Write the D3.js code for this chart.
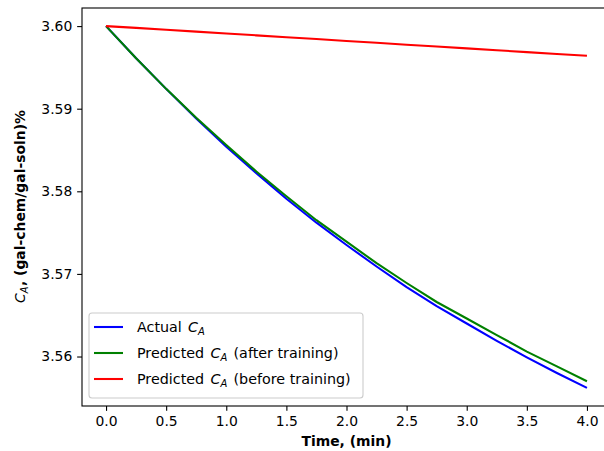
<!DOCTYPE html>
<html>
<head>
<meta charset="utf-8">
<script src="https://cdn.jsdelivr.net/npm/d3@7"></script>
<style>
  body { margin: 0; background: #fff; }
  svg { display: block; font-family: "DejaVu Sans", sans-serif; }
</style>
</head>
<body>
<div id="area"></div>
<script>
// time samples (min)
var times = [0, 0.25, 0.5, 0.75, 1.0, 1.25, 1.5, 1.75, 2.0, 2.25, 2.5, 2.75, 3.0, 3.25, 3.5, 3.75, 4.0];

var actual = [3.6000, 3.5961, 3.5924, 3.5888, 3.5854, 3.5822, 3.5791, 3.5762, 3.5735,
              3.5709, 3.5684, 3.5661, 3.5640, 3.5619, 3.5599, 3.5580, 3.5562];
var afterTraining = [3.6000, 3.5961, 3.5924, 3.5889, 3.5856, 3.5824, 3.5794, 3.5765, 3.5739,
                     3.5713, 3.5689, 3.5666, 3.5646, 3.5626, 3.5606, 3.5588, 3.5570];
var beforeTraining = [3.6000, 3.59978, 3.59955, 3.59933, 3.59910, 3.59888, 3.59865, 3.59843, 3.59820,
                      3.59798, 3.59775, 3.59753, 3.59730, 3.59708, 3.59685, 3.59663, 3.59640];

var xTicks = [0, 0.5, 1, 1.5, 2, 2.5, 3, 3.5, 4];
var yTicks = [3.56, 3.57, 3.58, 3.59, 3.60];

var seriesNames = ["Actual", "Predicted", "Predicted"];
var seriesSuffix = ["", " (after training)", " (before training)"];
var seriesColors = ["#0000ff", "#008000", "#ff0000"];

var width = 604, height = 451;
var plot = {left: 82, right: 611, top: 8, bottom: 406};
var fs = 13.9, legendFs = 14.3;

var svg = d3.select("#area").append("svg")
    .attr("width", width).attr("height", height);

// 5% margins like matplotlib
var allY = actual.concat(afterTraining, beforeTraining);
var yMin = d3.min(allY), yMax = d3.max(allY);
var yPad = (yMax - yMin) * 0.05;
var xPad = (4 - 0) * 0.05;

var x = d3.scaleLinear().domain([0 - xPad, 4 + xPad]).range([plot.left, plot.right]);
var y = d3.scaleLinear().domain([yMin - yPad, yMax + yPad]).range([plot.bottom, plot.top]);

var series = [actual, afterTraining, beforeTraining];

var line = d3.line()
    .x(function(d, i) { return x(times[i]); })
    .y(function(d) { return y(d); });

series.forEach(function(s, k) {
  svg.append("path")
    .datum(s)
    .attr("fill", "none")
    .attr("stroke", seriesColors[k])
    .attr("stroke-width", 2.08)
    .attr("stroke-linejoin", "round")
    .attr("d", line);
});

// axes
var xAxis = svg.append("g")
    .attr("transform", "translate(0," + plot.bottom + ")")
    .call(d3.axisBottom(x).tickValues(xTicks).tickFormat(d3.format(".1f"))
      .tickSize(4.86).tickPadding(4.86));
var yAxis = svg.append("g")
    .attr("transform", "translate(" + plot.left + ",0)")
    .call(d3.axisLeft(y).tickValues(yTicks).tickFormat(d3.format(".2f"))
      .tickSize(4.86).tickPadding(4.86));

[xAxis, yAxis].forEach(function(a) {
  a.select(".domain").remove();
  a.selectAll("line").attr("stroke", "#000").attr("stroke-width", 1.1);
  a.selectAll("text").attr("font-size", fs).attr("fill", "#000")
    .attr("font-family", "DejaVu Sans");
});

// spines
svg.append("rect")
  .attr("x", plot.left).attr("y", plot.top)
  .attr("width", plot.right - plot.left).attr("height", plot.bottom - plot.top)
  .attr("fill", "none").attr("stroke", "#000").attr("stroke-width", 1.1);

// axis labels
svg.append("text")
  .attr("x", (plot.left + plot.right) / 2).attr("y", 446)
  .attr("text-anchor", "middle")
  .attr("font-size", fs).attr("font-weight", "bold")
  .text("Time, (min)");

// italic C with subscript A, then the rest of the text back on the baseline
function mathCA(sel, size, rest, gap) {
  sel.append("tspan").attr("font-style", "italic").attr("font-weight", "normal")
    .attr("dx", gap).text("C");
  sel.append("tspan").attr("font-style", "italic").attr("font-weight", "normal")
    .attr("font-size", size * 0.7).attr("dy", size * 0.2).text("A");
  sel.append("tspan").attr("dy", -size * 0.2).attr("dx", gap)
    .attr("font-size", size).text(rest);
}

var ylab = svg.append("text")
  .attr("transform", "translate(25," + ((plot.top + plot.bottom) / 2) + ") rotate(-90)")
  .attr("text-anchor", "middle")
  .attr("font-size", fs).attr("font-weight", "bold");
mathCA(ylab, fs, ", (gal-chem/gal-soln)%", 0.5);

// legend
var lg = svg.append("g");
var lgX = 89, lgY = 313, lgW = 274, lgH = 85;
lg.append("rect")
  .attr("x", lgX).attr("y", lgY).attr("width", lgW).attr("height", lgH)
  .attr("rx", 3).attr("ry", 3)
  .attr("fill", "#fff").attr("fill-opacity", 0.8)
  .attr("stroke", "#cccccc").attr("stroke-width", 1.1);

seriesNames.forEach(function(name, k) {
  var ry = 327 + k * 26;
  lg.append("line")
    .attr("x1", 94).attr("x2", 123).attr("y1", ry).attr("y2", ry)
    .attr("stroke", seriesColors[k]).attr("stroke-width", 2.08);
  var t = lg.append("text")
    .attr("x", 137).attr("y", ry + 5)
    .attr("font-size", legendFs).attr("fill", "#000");
  t.append("tspan").text(name + " ");
  mathCA(t, legendFs, seriesSuffix[k], 1.75);
});
</script>
</body>
</html>
